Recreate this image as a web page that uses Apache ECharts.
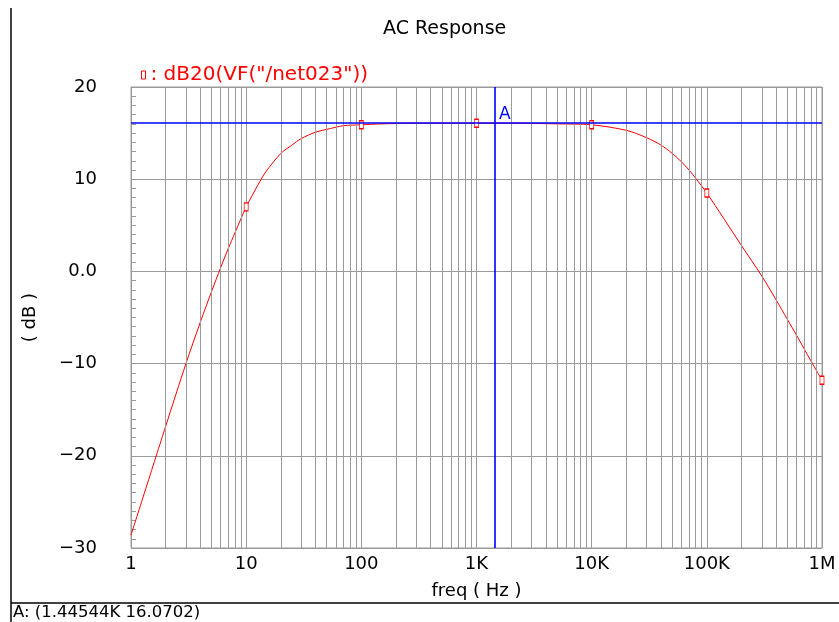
<!DOCTYPE html>
<html>
<head>
<meta charset="utf-8">
<title>AC Response</title>
<script src="https://cdn.jsdelivr.net/npm/echarts@6/dist/echarts.min.js"></script>
<style>
  html, body { margin: 0; padding: 0; background: #fff; }
  #chart { width: 839px; height: 622px; }
</style>
</head>
<body>
<div id="chart"></div>
<script>
// frequency points (Hz)
const freqs = [1, 2, 3, 4, 5, 6, 7, 8, 9, 10, 13.5, 15, 20, 25, 30, 40, 50, 70, 100, 150, 220, 300, 500,
  1000, 2000, 3000, 5000, 10000, 20000, 30000, 40000, 50000, 60000, 70000, 80000, 100000,
  200000, 300000, 400000, 500000, 600000, 700000, 800000, 900000, 1000000]
// dB20 values at those frequencies
const dbValues = [-28.6, -16.8, -10.0, -5.5, -2.2, 0.4, 2.5, 4.2, 5.7, 7.0, 10.0, 10.9, 12.8, 13.7, 14.4, 15.1, 15.4, 15.8, 15.9, 16.0, 16.05, 16.07, 16.07,
  16.07, 16.07, 16.05, 16.0, 15.9, 15.3, 14.5, 13.7, 12.8, 11.9, 11.0, 10.1, 8.5,
  2.8, -0.5, -3.1, -5.2, -6.9, -8.4, -9.7, -10.8, -11.8]
// frequencies that carry a marker
const markerFreqs = [10, 100, 1000, 10000, 100000, 1000000]
// x tick labels, one per decade
const decadeValues = [1, 10, 100, 1000, 10000, 100000, 1000000]
const decadeLabels = ['1', '10', '100', '1K', '10K', '100K', '1M']
// cursor A
const cursorFreq = 1445.44
const cursorDb = 16.0702

const font = 'DejaVu Sans'
const gridGray = '#9a9a9a'

// vertical grid lines at 2..9 times each decade
const minorFreqs = []
decadeValues.slice(0, -1).forEach(d => {
  for (let k = 2; k <= 9; k++) minorFreqs.push(d * k)
})

const chart = echarts.init(document.getElementById('chart'), null, { renderer: 'canvas' })

const option = {
  animation: false,
  backgroundColor: '#fff',
  textStyle: { fontFamily: font },
  title: {
    text: 'AC Response',
    left: 378,
    top: 15,
    textStyle: { fontFamily: font, fontSize: 19, fontWeight: 'normal', color: '#000' }
  },
  legend: {
    left: 136,
    top: 60,
    icon: 'rect',
    itemWidth: 4,
    itemHeight: 8,
    itemStyle: { color: '#fff', borderColor: '#ff0000', borderWidth: 1 },
    formatter: name => ': ' + name,
    textStyle: { fontFamily: font, fontSize: 20, color: '#ff0000' },
    data: ['dB20(VF("/net023"))']
  },
  grid: {
    left: 131,
    right: 17,
    top: 87,
    bottom: 74,
    show: true,
    borderColor: gridGray,
    borderWidth: 1
  },
  xAxis: {
    type: 'log',
    logBase: 10,
    min: 1,
    max: 1000000,
    name: 'freq ( Hz )',
    nameLocation: 'middle',
    nameGap: 34,
    nameTextStyle: { fontFamily: font, fontSize: 18, color: '#000' },
    axisLine: { lineStyle: { color: gridGray } },
    axisTick: { show: false },
    axisLabel: {
      fontFamily: font,
      fontSize: 18,
      color: '#000',
      margin: 7,
      formatter: v => {
        const i = decadeValues.findIndex(d => Math.abs(d - v) / d < 1e-6)
        return i >= 0 ? decadeLabels[i] : ''
      }
    },
    splitLine: { show: true, lineStyle: { color: gridGray, width: 1 } }
  },
  yAxis: {
    type: 'value',
    min: -30,
    max: 20,
    interval: 10,
    name: '( dB )',
    nameLocation: 'middle',
    nameRotate: 90,
    nameGap: 92,
    nameTextStyle: { fontFamily: font, fontSize: 18, color: '#000' },
    axisLine: { show: true, lineStyle: { color: gridGray } },
    axisTick: { show: true, inside: true, length: 5, lineStyle: { color: gridGray } },
    minorTick: { show: true, splitNumber: 10, length: 5, lineStyle: { color: gridGray } },
    axisLabel: {
      fontFamily: font,
      fontSize: 18,
      color: '#000',
      margin: 34,
      formatter: v => (v === 0 ? '0.0' : String(v).replace('-', '\u2212'))
    },
    splitLine: { show: true, lineStyle: { color: gridGray, width: 1 } }
  },
  series: [
    {
      // minor vertical grid lines
      type: 'line',
      z: 1,
      data: [],
      silent: true,
      markLine: {
        silent: true,
        symbol: 'none',
        animation: false,
        label: { show: false },
        lineStyle: { color: gridGray, width: 1, type: 'solid' },
        data: minorFreqs.map(f => ({ xAxis: f }))
      }
    },
    {
      name: 'dB20(VF("/net023"))',
      type: 'line',
      z: 3,
      smooth: 0.3,
      data: freqs.map((f, i) => ({
        value: [f, dbValues[i]],
        symbol: markerFreqs.includes(f) ? 'rect' : 'none'
      })),
      symbolSize: [4, 8],
      showAllSymbol: true,
      lineStyle: { color: '#ff0000', width: 1 },
      itemStyle: { color: '#fff', borderColor: '#ff0000', borderWidth: 1 }
    },
    {
      // cursor A
      type: 'line',
      z: 5,
      data: [],
      silent: true,
      markLine: {
        silent: true,
        symbol: 'none',
        animation: false,
        label: { show: false },
        lineStyle: { color: '#0000ff', width: 1.6, type: 'solid' },
        data: [{ xAxis: cursorFreq }, { yAxis: cursorDb }]
      },
      markPoint: {
        silent: true,
        symbol: 'circle',
        symbolSize: 0,
        label: {
          show: true,
          formatter: 'A',
          position: 'inside',
          offset: [10, -9],
          fontFamily: font,
          fontSize: 17,
          color: '#0000ff'
        },
        data: [{ coord: [cursorFreq, cursorDb] }]
      }
    }
  ],
  graphic: [
    {
      type: 'line',
      shape: { x1: 11, y1: 8, x2: 11, y2: 622 },
      style: { stroke: '#000', lineWidth: 1.5 }
    },
    {
      type: 'line',
      shape: { x1: 11, y1: 603, x2: 839, y2: 603 },
      style: { stroke: '#000', lineWidth: 1.5 }
    },
    {
      type: 'text',
      left: 13,
      top: 604,
      style: { text: 'A: (1.44544K 16.0702)', fontFamily: font, fontSize: 16.5, fill: '#000' }
    }
  ]
}

chart.setOption(option)
</script>
</body>
</html>
